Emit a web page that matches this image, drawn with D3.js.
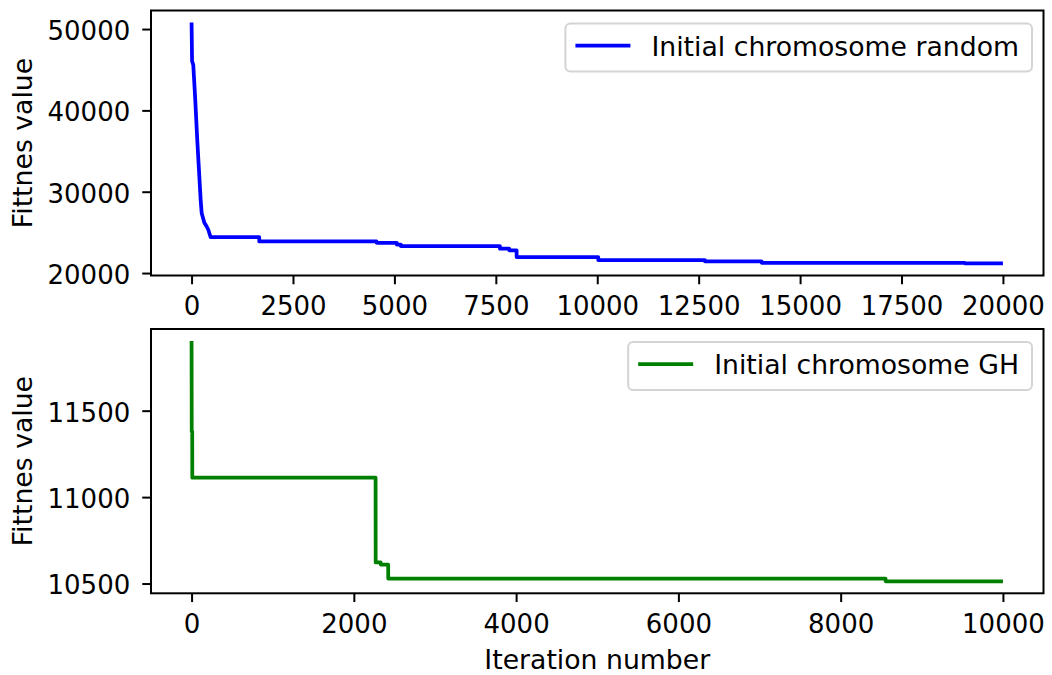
<!DOCTYPE html>
<html>
<head>
  <script src="https://cdnjs.cloudflare.com/ajax/libs/d3/7.8.5/d3.min.js"></script>
  <style>
    body { margin: 0; background: #fff; }
    text { font-family: "DejaVu Sans", sans-serif; fill: #000; }
    .tick line { stroke: #000; stroke-width: 2; }
    .tick text { font-size: 26px; }
    .frame { fill: none; stroke: #000; stroke-width: 2; }
    .series { fill: none; stroke-width: 3.75; stroke-linejoin: round; }
    .axis-label { font-size: 26.7px; }
    .legend-box { fill: #fff; fill-opacity: 0.8; stroke: #d4d4d4; stroke-width: 2; }
  </style>
</head>
<body>
  <div id="chart"></div>

  <script>
    // fast early drop of the random run (drawn as a plain polyline)
    const randomRampIter  = [0, 12, 42, 91, 140, 182, 224, 249, 313, 372, 412, 470];
    const randomRampValue = [50800, 46080, 45590, 41290, 36375, 32690, 29000, 27370, 26220, 25720, 25320, 24420];
    // after that: iteration where the value changes, and the new value
    const randomStepIter  = [1669, 4562, 5060, 5160, 7602, 7831, 8013, 10025, 12655, 14052, 19063, 20000];
    const randomStepValue = [23880, 23720, 23500, 23300, 22990, 22780, 21970, 21600, 21425, 21265, 21180, 21180];

    const ghRampIter  = [0, 2];
    const ghRampValue = [11903, 11380];
    const ghStepIter  = [9, 2269, 2331, 2424, 8554, 10000];
    const ghStepValue = [11112, 10622, 10610, 10529, 10513, 10513];

    const topXTicks = d3.range(0, 20001, 2500);
    const topYTicks = [20000, 30000, 40000, 50000];
    const botXTicks = d3.range(0, 10001, 2000);
    const botYTicks = [10500, 11000, 11500];

    const W = 1052, H = 675;
    const left = 151, right = 1043.5;

    const svg = d3.select("#chart")
      .append("svg")
        .attr("width", W)
        .attr("height", H);

    // matplotlib style 5% padding on each side
    function padded(ext) {
      const p = (ext[1] - ext[0]) * 0.05;
      return [ext[0] - p, ext[1] + p];
    }

    // ramp points as they are, then hold each value until one iteration before the next change
    function buildPoints(rIter, rVal, sIter, sVal) {
      const pts = rIter.map((d, i) => [d, rVal[i]]);
      let prev = rVal[rVal.length - 1];
      sIter.forEach((d, i) => {
        pts.push([d - 1, prev]);
        pts.push([d, sVal[i]]);
        prev = sVal[i];
      });
      return pts;
    }

    function panel(opts) {
      const pts = opts.points;

      const x = d3.scaleLinear()
        .domain(padded(d3.extent(pts, d => d[0])))
        .range([left, right]);
      const y = d3.scaleLinear()
        .domain(padded(d3.extent(pts, d => d[1])))
        .range([opts.bottom, opts.top]);

      const g = svg.append("g");

      // x axis
      const xa = g.append("g")
        .attr("transform", `translate(0,${opts.bottom})`)
        .call(d3.axisBottom(x).tickValues(opts.xTicks).tickFormat(d3.format("d")).tickSize(8.75).tickSizeOuter(0));
      xa.select(".domain").remove();
      xa.selectAll(".tick text").attr("dy", null).attr("y", 39.5);

      // y axis
      const ya = g.append("g")
        .attr("transform", `translate(${left},0)`)
        .call(d3.axisLeft(y).tickValues(opts.yTicks).tickFormat(d3.format("d")).tickSize(8.75).tickPadding(12).tickSizeOuter(0));
      ya.select(".domain").remove();
      ya.selectAll(".tick text").attr("dy", "0.40em");

      // line
      g.append("path")
        .datum(pts)
        .attr("class", "series")
        .attr("stroke", opts.color)
        .attr("d", d3.line()
          .x(d => x(d[0]))
          .y(d => y(d[1])));

      // frame
      g.append("rect")
        .attr("class", "frame")
        .attr("x", left)
        .attr("y", opts.top)
        .attr("width", right - left)
        .attr("height", opts.bottom - opts.top);

      // y label
      g.append("text")
        .attr("class", "axis-label")
        .attr("transform", `translate(32,${(opts.top + opts.bottom) / 2}) rotate(-90)`)
        .style("text-anchor", "middle")
        .text("Fittnes value");

      // legend
      const lg = g.append("g");
      const boxTop = opts.top + 13;
      const boxRight = right - 11.5;
      const txt = lg.append("text")
        .attr("font-size", "26.7px")
        .attr("y", boxTop + 32)
        .text(opts.label);
      const tw = txt.node().getComputedTextLength();
      const textX = boxRight - 13 - tw;
      txt.attr("x", textX);
      const handleEnd = textX - 21;
      const handleStart = handleEnd - 55;
      const boxLeft = handleStart - 10;
      lg.insert("rect", "text")
        .attr("class", "legend-box")
        .attr("x", boxLeft)
        .attr("y", boxTop)
        .attr("rx", 5)
        .attr("width", boxRight - boxLeft)
        .attr("height", 48);
      lg.append("line")
        .attr("x1", handleStart)
        .attr("x2", handleEnd)
        .attr("y1", boxTop + 22)
        .attr("y2", boxTop + 22)
        .attr("stroke", opts.color)
        .attr("stroke-width", 3.75);
    }

    panel({
      points: buildPoints(randomRampIter, randomRampValue, randomStepIter, randomStepValue),
      top: 10.5, bottom: 275.5,
      xTicks: topXTicks, yTicks: topYTicks,
      color: "#0000ff", label: "Initial chromosome random"
    });

    panel({
      points: buildPoints(ghRampIter, ghRampValue, ghStepIter, ghStepValue),
      top: 329, bottom: 593.3,
      xTicks: botXTicks, yTicks: botYTicks,
      color: "#008000", label: "Initial chromosome GH"
    });

    // x label
    svg.append("text")
      .attr("class", "axis-label")
      .attr("x", (left + right) / 2)
      .attr("y", 669)
      .style("text-anchor", "middle")
      .text("Iteration number");
  </script>
</body>
</html>
